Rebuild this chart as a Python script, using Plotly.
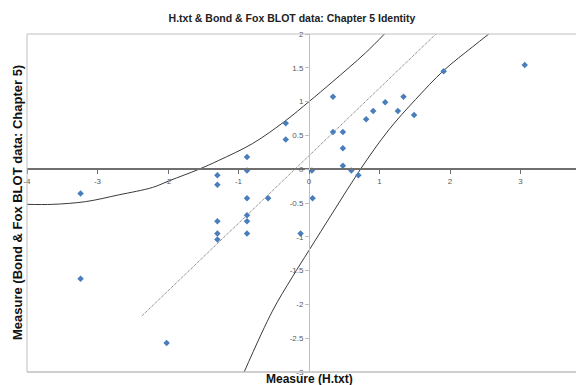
import plotly.graph_objects as go

# Data points: Measure (H.txt) vs Measure (Bond & Fox BLOT data: Chapter 5)
x_h = [-0.33, -0.33, -0.88, -0.88, -1.30, -1.30, -3.24, -0.88, -0.58, -0.88,
       -1.30, -0.88, -1.30, -0.88, -1.30, -3.24, -2.02, -0.12, 0.04, 0.05,
       0.34, 0.34, 0.48, 0.48, 0.48, 0.60, 0.70, 0.81, 0.91, 1.08,
       1.26, 1.34, 1.49, 1.91, 3.06]
y_bf = [0.68, 0.44, 0.18, -0.02, -0.09, -0.23, -0.36, -0.43, -0.43, -0.68,
        -0.77, -0.77, -0.95, -0.95, -1.04, -1.62, -2.57, -0.95, -0.02, -0.43,
        1.07, 0.55, 0.55, 0.31, 0.05, -0.02, -0.09, 0.74, 0.86, 0.99,
        0.86, 1.07, 0.80, 1.45, 1.54]

# Identity (trend) line
ident_x = [-2.37, 1.80]
ident_y = [-2.17, 2.00]

# Upper confidence curve
upper_x = [-4.00, -3.64, -3.17, -2.70, -2.22, -1.98, -1.56, -1.28, -0.80, -0.33, 0.00, 0.33, 0.80, 1.07]
upper_y = [-0.52, -0.52, -0.48, -0.38, -0.27, -0.17, 0.00, 0.13, 0.38, 0.72, 1.00, 1.29, 1.72, 2.00]

# Lower confidence curve
lower_x = [-0.92, -0.52, -0.24, 0.00, 0.35, 0.73, 1.13, 1.51, 1.91, 2.32, 2.55]
lower_y = [-3.00, -2.10, -1.60, -1.20, -0.62, 0.00, 0.58, 1.03, 1.46, 1.81, 2.00]

x_tickvals = [-4, -3, -2, -1, 0, 1, 2, 3]
x_ticktext = ["-4", "-3", "-2", "-1", "0", "1", "2", "3"]
y_tickvals = [-3, -2.5, -2, -1.5, -1, -0.5, 0, 0.5, 1, 1.5, 2]
y_ticktext = ["-3", "-2.5", "-2", "-1.5", "-1", "-0.5", "0", "0.5", "1", "1.5", "2"]

X_RANGE = [-4, 3.9]
Y_RANGE = [-3, 2]

# page has an 8px default body margin; compensate
OFF = 8
W, H = 584 - OFF, 385 - OFF

fig = go.Figure()
fig.add_trace(go.Scatter(x=upper_x, y=upper_y, mode="lines",
                         line=dict(color="#3a3a3a", width=1, shape="spline", smoothing=1.0),
                         hoverinfo="skip", showlegend=False))
fig.add_trace(go.Scatter(x=lower_x, y=lower_y, mode="lines",
                         line=dict(color="#3a3a3a", width=1, shape="spline", smoothing=1.0),
                         hoverinfo="skip", showlegend=False))
fig.add_trace(go.Scatter(x=ident_x, y=ident_y, mode="lines",
                         line=dict(color="#666666", width=1, dash="1px,1px"),
                         hoverinfo="skip", showlegend=False))
fig.add_trace(go.Scatter(x=x_h, y=y_bf, mode="markers",
                         marker=dict(symbol="diamond", size=5, color="#4a7ebb"),
                         showlegend=False))

xpos = (0 - Y_RANGE[0]) / (Y_RANGE[1] - Y_RANGE[0])
ypos = (0 - X_RANGE[0]) / (X_RANGE[1] - X_RANGE[0])

tickfont = dict(family="Liberation Sans, Arial, sans-serif", size=8, color="#595959")

fig.update_layout(
    width=W, height=H,
    margin=dict(l=27 - OFF, r=0, t=34 - OFF, b=13, autoexpand=False),
    paper_bgcolor="white", plot_bgcolor="white",
    title=dict(text="<b>H.txt & Bond & Fox BLOT data: Chapter 5 Identity</b>",
               x=(292 - OFF) / W, xanchor="center", y=1 - (18 - OFF) / H, yanchor="middle",
               font=dict(family="Liberation Sans, Arial, sans-serif", size=10.5, color="#222222")),
    xaxis=dict(range=X_RANGE, showgrid=False, zeroline=False, automargin=False,
               tickvals=x_tickvals, ticktext=x_ticktext,
               anchor="free", position=xpos,
               showline=True, linecolor="#6f6f6f", linewidth=1.5,
               ticks="outside", ticklen=4, tickcolor="#6f6f6f",
               tickfont=tickfont),
    yaxis=dict(range=Y_RANGE, showgrid=False, zeroline=False, automargin=False,
               tickvals=y_tickvals, ticktext=y_ticktext,
               anchor="free", position=ypos,
               showline=True, linecolor="#bfbfbf", linewidth=1,
               ticks="outside", ticklen=4, tickcolor="#bfbfbf",
               tickfont=tickfont),
    annotations=[
        dict(text="<b>Measure (H.txt)</b>", xref="paper", yref="paper",
             x=ypos, y=0, yshift=-7, xanchor="center", yanchor="middle",
             showarrow=False,
             font=dict(family="Liberation Sans, Arial, sans-serif", size=12, color="#111111")),
        dict(text="<b>Measure (Bond & Fox BLOT data: Chapter 5)</b>", xref="paper", yref="paper",
             x=0, xshift=-10, y=0.5, xanchor="center", yanchor="middle", textangle=-90,
             showarrow=False,
             font=dict(family="Liberation Sans, Arial, sans-serif", size=13, color="#111111")),
    ],
    shapes=[
        dict(type="line", xref="paper", yref="paper", x0=0, x1=0, y0=0, y1=1,
             line=dict(color="#bfbfbf", width=1)),
        dict(type="line", xref="paper", yref="paper", x0=0, x1=1, y0=1, y1=1,
             line=dict(color="#bfbfbf", width=1)),
        dict(type="line", xref="paper", yref="paper", x0=0, x1=1, y0=0, y1=0,
             line=dict(color="#bfbfbf", width=1.5)),
    ],
)

fig.write_html("out.html")
